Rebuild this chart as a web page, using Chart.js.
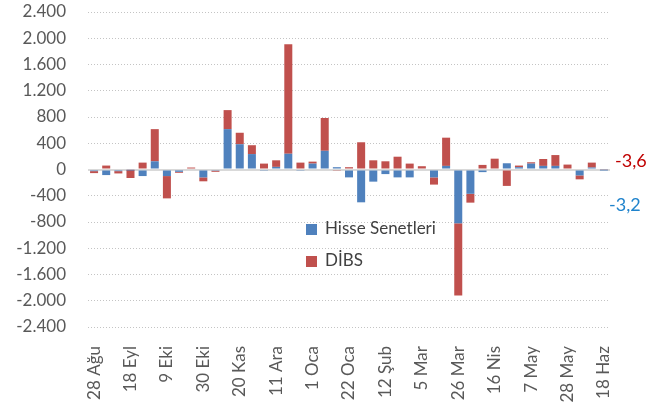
<!DOCTYPE html>
<html>
<head>
<meta charset="utf-8">
<script src="https://cdn.jsdelivr.net/npm/chart.js@4.4.1/dist/chart.umd.min.js"></script>
<style>
  body { margin: 0; background: #fff; }
  #wrap { width: 666px; height: 406px; }
</style>
</head>
<body>
<div id="wrap"><canvas id="chart" width="666" height="406"></canvas></div>
<script>
// weekly categories, only every third one gets a label on the axis
const weeks = ['28 Ağu', '4 Eyl', '11 Eyl', '18 Eyl', '25 Eyl', '2 Eki', '9 Eki', '16 Eki', '23 Eki', '30 Eki',
  '6 Kas', '13 Kas', '20 Kas', '27 Kas', '4 Ara', '11 Ara', '18 Ara', '25 Ara', '1 Oca', '8 Oca',
  '15 Oca', '22 Oca', '29 Oca', '5 Şub', '12 Şub', '19 Şub', '26 Şub', '5 Mar', '12 Mar', '19 Mar',
  '26 Mar', '2 Nis', '9 Nis', '16 Nis', '23 Nis', '30 Nis', '7 May', '14 May', '21 May', '28 May',
  '4 Haz', '11 Haz', '18 Haz']
const shownWeeks = ['28 Ağu', '18 Eyl', '9 Eki', '30 Eki', '20 Kas', '11 Ara', '1 Oca', '22 Oca',
  '12 Şub', '5 Mar', '26 Mar', '16 Nis', '7 May', '28 May', '18 Haz']

const hisse = [-25, -85, -25, -5, -100, 125, -100, -35, 0, -120, -20, 615, 385, 235, -20, 40, 240, -20, 90, 285,
  35, -120, -500, -185, -70, -120, -120, 0, -120, 55, -820, -370, -40, 0, 95, 35, 90, 55, 55, 0, -90, 30, -3.2]
const dibs = [-30, 60, -35, -125, 105, 490, -340, -15, 30, -60, -15, 290, 175, 135, 90, 100, 1670, 105, 30, 500,
  -20, 35, 415, 140, 125, 195, 90, 50, -110, 430, -1100, -135, 70, 165, -250, 25, 20, 105, 165, 75, -60, 75, -3.6]

const seriesNames = ['Hisse Senetleri', 'DİBS']
const lastWeekTexts = ['-3,6', '-3,2']   // DİBS, Hisse

const yMin = -2400, yMax = 2400, yStep = 400

const blue = '#4f81bd'
const red = '#c0504d'
const font = 'Lato'

function fmt(v) {
    const s = Math.abs(v).toString().replace(/\B(?=(\d{3})+(?!\d))/g, '.')
    return (v < 0 ? '-' : '') + s
}

// legend inside the plot + the two numbers on the right
const extras = {
    id: 'extras',
    afterDraw(chart) {
        const ctx = chart.ctx
        const area = chart.chartArea
        ctx.save()
        ctx.font = '17px ' + font
        ctx.textBaseline = 'middle'
        ctx.textAlign = 'left'
        const lx = area.left + 218
        const ly = [229, 261]
        chart.data.datasets.forEach((ds, i) => {
            ctx.fillStyle = ds.backgroundColor
            ctx.fillRect(lx, ly[i] - 5, 11, 11)
            ctx.fillStyle = '#404040'
            ctx.fillText(ds.label, lx + 19, ly[i])
        })
        ctx.font = '18px ' + font
        ctx.fillStyle = '#c00000'
        ctx.fillText(lastWeekTexts[0], area.right + 5, 161)
        ctx.fillStyle = '#1f83cc'
        ctx.fillText(lastWeekTexts[1], area.right - 1, 205)
        ctx.restore()
    }
}

new Chart(document.getElementById('chart'), {
    type: 'bar',
    data: {
        labels: weeks,
        datasets: [{
            label: seriesNames[0],
            data: hisse,
            backgroundColor: blue
        }, {
            label: seriesNames[1],
            data: dibs,
            backgroundColor: red
        }]
    },
    options: {
        responsive: false,
        animation: false,
        devicePixelRatio: 1,
        layout: { padding: { left: 0, right: 56, top: 12, bottom: 0 } },
        datasets: { bar: { barPercentage: 0.66, categoryPercentage: 1 } },
        plugins: { legend: { display: false }, tooltip: { enabled: false } },
        scales: {
            x: {
                stacked: true,
                grid: { display: false },
                border: { display: false },
                afterFit(scale) {
                    scale.height = 79
                    scale.paddingLeft = 0
                    scale.paddingRight = 0
                },
                ticks: {
                    autoSkip: false,
                    minRotation: 90,
                    maxRotation: 90,
                    padding: 11,
                    color: '#595959',
                    font: { family: font, size: 17 },
                    callback(value) {
                        const name = this.getLabelForValue(value)
                        return shownWeeks.includes(name) ? name : ''
                    }
                }
            },
            y: {
                stacked: true,
                min: yMin,
                max: yMax,
                afterFit(scale) {
                    scale.width = 88
                    scale.paddingTop = 0
                    scale.paddingBottom = 0
                },
                grid: {
                    drawTicks: false,
                    color: c => c.tick && c.tick.value === 0 ? '#d9d9d9' : '#c4c4c4',
                    lineWidth: c => c.tick && c.tick.value === 0 ? 2 : 1
                },
                border: {
                    display: false,
                    dash: c => c.tick && c.tick.value === 0 ? [] : [1, 2]
                },
                ticks: {
                    stepSize: yStep,
                    padding: 22,
                    color: '#595959',
                    font: { family: font, size: 17 },
                    callback: v => fmt(v)
                }
            }
        }
    },
    plugins: [extras]
})
</script>
</body>
</html>
